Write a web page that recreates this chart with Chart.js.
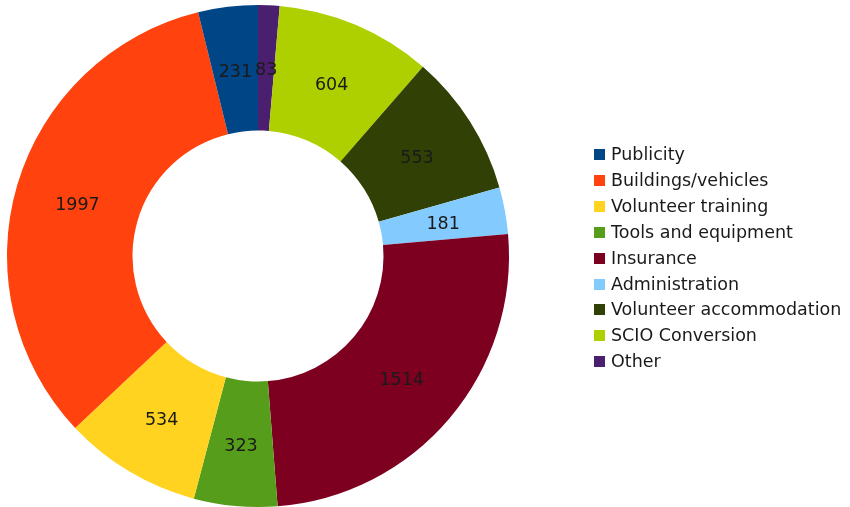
<!DOCTYPE html>
<html>
<head>
<meta charset="utf-8">
<script src="https://cdn.jsdelivr.net/npm/chart.js@4/dist/chart.umd.min.js"></script>
<style>
  html, body { margin: 0; padding: 0; background: #fff; }
  #wrap { width: 850px; height: 507px; }
</style>
</head>
<body>
<div id="wrap"><canvas id="chart"></canvas></div>
<script>
const categories = ['Publicity', 'Buildings/vehicles', 'Volunteer training', 'Tools and equipment',
  'Insurance', 'Administration', 'Volunteer accommodation', 'SCIO Conversion', 'Other']
const amounts = [231, 1997, 534, 323, 1514, 181, 553, 604, 83]
const sliceColors = ['#004586', '#ff420e', '#ffd320', '#579d1c', '#7e0021',
  '#83caff', '#314004', '#aecf00', '#4b1f6f']

const FONT = '"DejaVu Sans", sans-serif'

// the original goes anticlockwise from 12 o'clock, Chart.js goes clockwise,
// so hand the dataset everything reversed
const rev = arr => arr.slice().reverse()

// value text in the middle of each ring segment
const valueLabels = {
  id: 'valueLabels',
  afterDatasetsDraw(chart) {
    const ctx = chart.ctx
    const meta = chart.getDatasetMeta(0)
    const values = chart.data.datasets[0].data
    ctx.save()
    ctx.font = '17.5px ' + FONT
    ctx.fillStyle = '#1a1a1a'
    ctx.textAlign = 'center'
    ctx.textBaseline = 'middle'
    meta.data.forEach((arc, i) => {
      const p = arc.getProps(['x', 'y', 'startAngle', 'endAngle', 'innerRadius', 'outerRadius'])
      const mid = (p.startAngle + p.endAngle) / 2
      const r = (p.innerRadius + p.outerRadius) / 2
      ctx.fillText(String(values[i]), p.x + Math.cos(mid) * r, p.y + Math.sin(mid) * r + 3)
    })
    ctx.restore()
  }
}

// legend on the right, in the original (non reversed) order
const sideLegend = {
  id: 'sideLegend',
  afterDraw(chart) {
    const ctx = chart.ctx
    ctx.save()
    ctx.font = '17.5px ' + FONT
    ctx.textBaseline = 'middle'
    categories.forEach((name, i) => {
      const y = 154.5 + i * 25.9
      ctx.fillStyle = sliceColors[i]
      ctx.fillRect(594, Math.round(y - 5.5), 11, 11)
      ctx.fillStyle = '#1a1a1a'
      ctx.fillText(name, 611, y + 1)
    })
    ctx.restore()
  }
}

new Chart(document.getElementById('chart'), {
  type: 'doughnut',
  data: {
    labels: rev(categories),
    datasets: [{
      data: rev(amounts),
      backgroundColor: rev(sliceColors),
      borderWidth: 0
    }]
  },
  options: {
    responsive: true,
    maintainAspectRatio: false,
    animation: false,
    cutout: '50%',
    layout: { padding: { left: 7, top: 5, right: 341, bottom: 0 } },
    plugins: {
      legend: { display: false },
      tooltip: { enabled: false }
    }
  },
  plugins: [valueLabels, sideLegend]
})
</script>
</body>
</html>
